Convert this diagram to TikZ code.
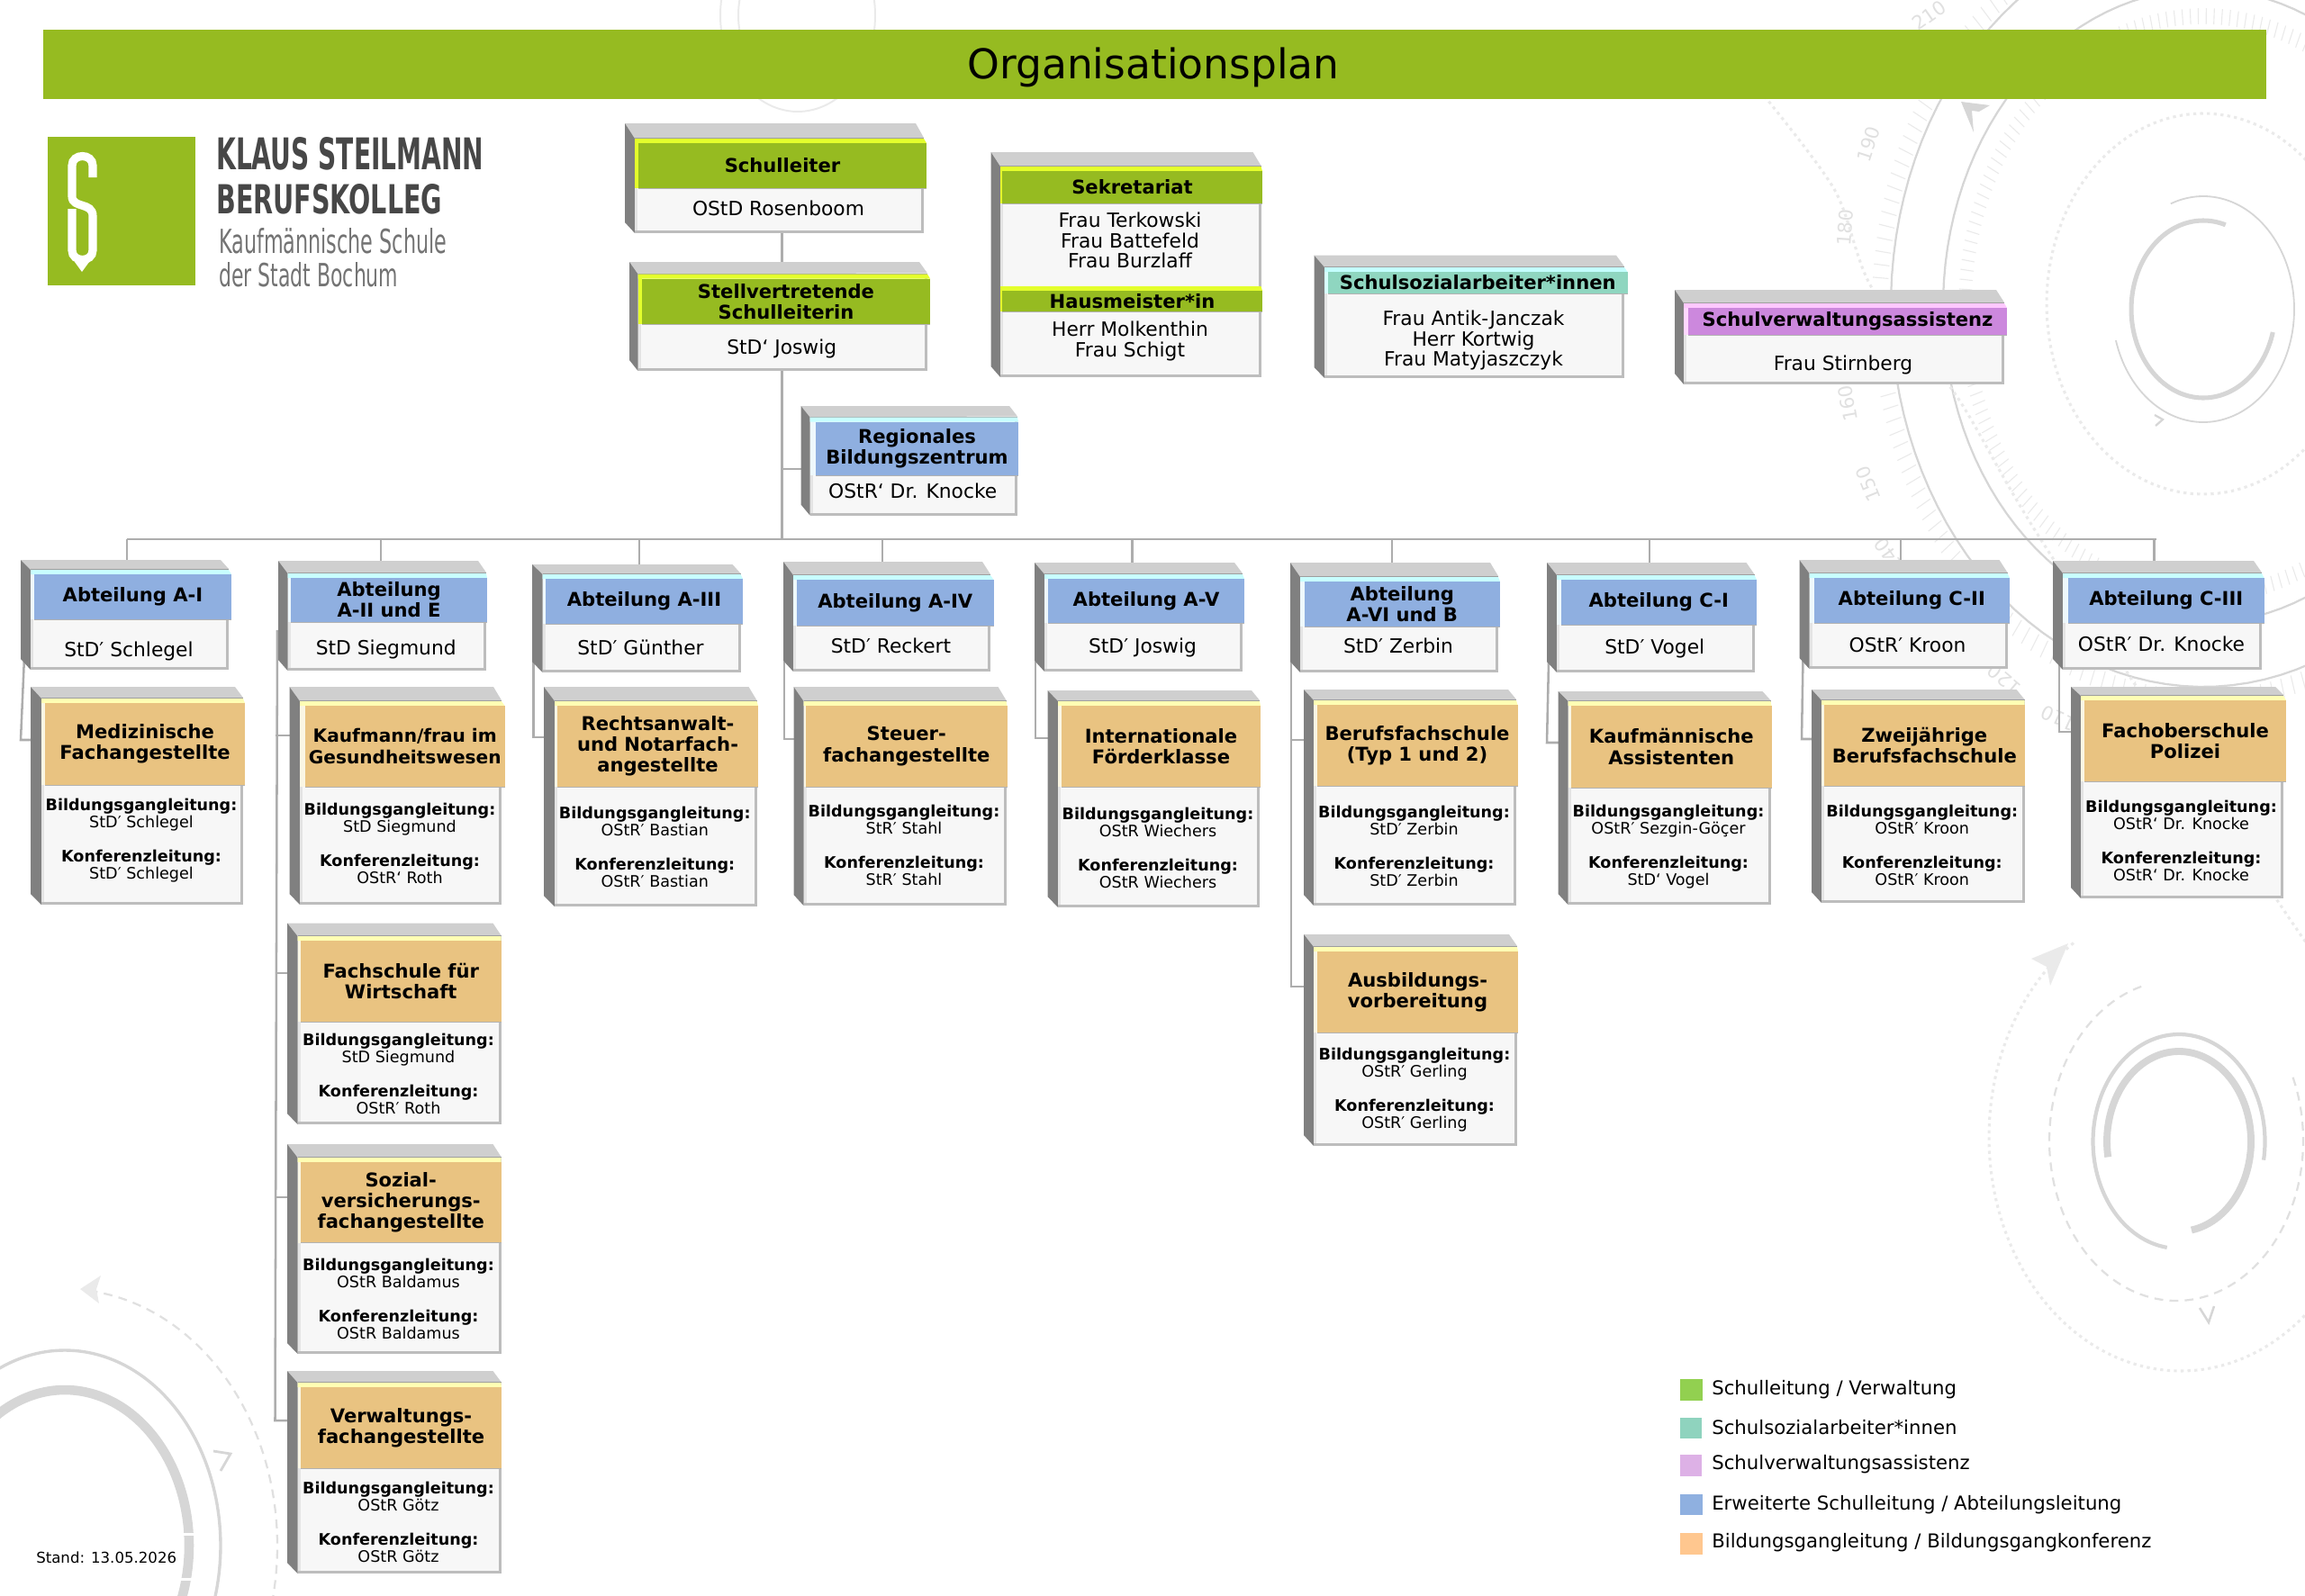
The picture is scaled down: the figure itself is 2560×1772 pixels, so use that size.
\documentclass[tikz,border=0pt]{standalone}
\usepackage{fontspec}
\usepackage{graphicx}
\setmainfont{DejaVu Sans}
\usetikzlibrary{backgrounds}

% Palette
\definecolor{brand}{HTML}{96BB21}
\definecolor{bandG}{HTML}{96BB21}\definecolor{liteG}{HTML}{E4FF2C}\definecolor{sideG}{HTML}{E4FF2C}
\definecolor{bandB}{HTML}{8FAFE0}\definecolor{liteB}{HTML}{C8FFFF}\definecolor{sideB}{HTML}{EEF8FC}
\definecolor{bandO}{HTML}{E9C381}\definecolor{liteO}{HTML}{FFFFB4}\definecolor{sideO}{HTML}{FAF6E4}
\definecolor{bandT}{HTML}{8FD6C0}\definecolor{liteT}{HTML}{C4FFFF}\definecolor{sideT}{HTML}{D8FFFF}
\definecolor{bandP}{HTML}{CC88DD}\definecolor{liteP}{HTML}{FFC8FF}\definecolor{sideP}{HTML}{FFD8FF}
\definecolor{faceTop}{HTML}{CFCFCF}
\definecolor{faceSide}{HTML}{808080}
\definecolor{faceEdge}{HTML}{BDBDBD}
\definecolor{faceFront}{HTML}{F7F7F7}
\definecolor{faceLeft}{HTML}{E4E4E4}
\definecolor{artDark}{HTML}{D6D6D6}
\definecolor{artMid}{HTML}{E0E0E0}
\definecolor{artLight}{HTML}{EAEAEA}
\definecolor{legA}{HTML}{92D050}
\definecolor{legB}{HTML}{8FD3BE}
\definecolor{legC}{HTML}{DDB1E6}
\definecolor{legD}{HTML}{8FB0E0}
\definecolor{legE}{HTML}{FFC78F}

\newdimen\pxu \pxu=0.25mm

\tikzset{
  conn/.style={draw=black!32, line width=1.8pt},
  headtext/.style={inner sep=0pt, align=center, font=\fontsize{15}{16.5}\selectfont\bfseries},
  bodytext/.style={inner sep=0pt, align=center, font=\fontsize{15.5}{16.2}\selectfont},
  smalltext/.style={inner sep=0pt, align=center, font=\fontsize{12.5}{13.5}\selectfont},
  legendtext/.style={inner sep=0pt, anchor=west, font=\fontsize{15.1}{17}\selectfont},
  thinring/.style={draw=artDark, line width=1.6pt},
  thickring/.style={draw=artDark, line width=4pt},
  dashring/.style={draw=artMid, line width=1.6pt, dash pattern=on 7pt off 5pt},
  dotring/.style={draw=artLight, line width=2.2pt, dash pattern=on 2.4pt off 3pt},
  tickmark/.style={draw=artLight, line width=0.8pt},
  scalenum/.style={inner sep=0pt, text=artMid, font=\fontsize{15}{15}\selectfont},
}

% Elliptical arc, angles counted counter-clockwise on the page
\newcommand\ringarc[7]{% style, cx, cy, rx, ry, from, to
  \draw[#1] plot[domain=#6:#7, samples=120]
    ({#2+#4*cos(\x)},{#3-#5*sin(\x)});}

\def\orgread#1,#2,#3,#4,#5,#6,#7,#8,#9\relax{%
  \def\boxL{#1}\def\boxT{#2}\def\boxF{#3}\def\boxR{#4}%
  \def\bandL{#5}\def\bandR{#6}\def\bandT{#7}\def\bandB{#8}\def\boxB{#9}}

% Block with its top and left faces and the pale front
\newcommand\orgshell{%
  \fill[faceTop] (\boxL,\boxT) -- ({\boxR-9},\boxT) -- (\boxR,{\bandT-1}) -- (\boxF,\bandT) -- cycle;
  \draw[black!38, line width=0.8pt] (\boxF,\bandT) -- (\boxR,\bandT);
  \fill[faceSide] (\boxL,\boxT) -- (\boxF,\bandT) -- (\boxF,\boxB) -- (\boxL,{\boxB-12}) -- cycle;
  \fill[faceEdge] (\boxF,\bandT) rectangle (\boxR,\boxB);
  \fill[faceLeft] (\boxF,\bandT) rectangle ({\boxF+3},{\boxB-3});
  \fill[faceFront] ({\boxF+3},\bandT) rectangle ({\boxR-3},{\boxB-3});}

% Coloured title band: name, left, right, top, bottom, colour letter, text
\newcommand\orgband[7]{%
  \fill[side#6] (\boxF,#4) rectangle (#2,#5);
  \fill[lite#6] (\boxF,#4) -- (\boxR,#4) -- (#3,{#4+5}) -- (#2,{#4+5}) -- (\boxF,{#4+5}) -- cycle;
  \fill[band#6] (#2,{#4+5}) rectangle (#3,#5);
  \draw[black!30, line width=0.7pt] (#2,#5) -- (#3,#5);
  \node[headtext] (#1) at ({(#2+#3)/2},{(#4+5+#5)/2}) {#7};}

% Complete box: id, geometry list, colour letter, title, body, body text shift
\newcommand\orgbox[6]{%
  \orgread#2\relax
  \orgshell
  \orgband{#1}{\bandL}{\bandR}{\bandT}{\bandB}{#3}{#4}
  \node[bodytext] (#1-body) at ({(\boxF+\boxR)/2-1},{(\bandB+\boxB)/2+#6}) {#5};}

% Programme box: same block, body lists the two functions with their holders
\newcommand\progbox[6]{%
  \orgread#2\relax
  \orgshell
  \orgband{#1}{\bandL}{\bandR}{\bandT}{\bandB}{O}{#3}
  \node[smalltext] (#1-body) at ({(\boxF+\boxR)/2-1},{(\bandB+\boxB)/2+1+#6})
    {\textbf{Bildungsgangleitung:}\\#4\\[13.5pt]\textbf{Konferenzleitung:}\\#5};}

\begin{document}
\begin{tikzpicture}[x=0.25mm,y=-0.25mm]
\useasboundingbox (0,0) rectangle (2560,1772);

% ---- Decorative dials behind the chart ----
\begin{pgfonlayer}{background}
\begin{scope}
\clip (0,0) rectangle (2560,1772);
% top centre ring
\ringarc{draw=artLight,line width=1.4pt}{886}{17}{86}{107}{0}{360}
\ringarc{draw=artLight,line width=1.4pt}{886}{17}{66}{82}{150}{210}
% upper right dial
\ringarc{draw=artDark,line width=1.6pt}{2447}{340}{347}{423}{0}{360}
\ringarc{draw=artDark,line width=1.6pt}{2447}{340}{289}{352}{0}{360}
\foreach \a in {0,1.9,...,359} {
  \draw[tickmark] ({2447+0.89*289*cos(\a)},{340-0.89*352*sin(\a)}) -- ({2447+0.94*289*cos(\a)},{340-0.94*352*sin(\a)});
}
\foreach \a in {60,61.9,...,300} {
  \draw[tickmark] ({2447+1.01*347*cos(\a)},{340-1.01*423*sin(\a)}) -- ({2447+1.06*347*cos(\a)},{340-1.06*423*sin(\a)});
}
\node[scalenum,rotate=35] (n210) at (2143,17) {210};
\node[scalenum,rotate=72] (n190) at (2075,160) {190};
\node[scalenum,rotate=86] (n180) at (2049,253) {180};
\node[scalenum,rotate=100] (n160) at (2052,448) {160};
\node[scalenum,rotate=112] (n150) at (2075,538) {150};
\node[scalenum,rotate=125] (n140) at (2098,616) {140};
\node[scalenum,rotate=140] (n120) at (2226,755) {120};
\node[scalenum,rotate=155] (n110) at (2286,798) {110};
\draw[dotring] plot[smooth] coordinates {(1950,95) (2037,210) (2079,320) (2173,440) (2267,600) (2531,1003) (2590,1085)};
\ringarc{dotring}{2447}{337.5}{174}{211.5}{0}{360}
\ringarc{draw=artDark,line width=1.3pt}{2447}{343.5}{101}{125.5}{-164}{111}
\ringarc{draw=artDark,line width=3.6pt}{2447}{343.5}{80}{98.5}{72}{345}
\fill[artDark] (2178,113) -- (2210,117) -- (2198,124) -- (2190,123) -- (2192,147) -- cycle;
\draw[artDark,line width=1.6pt] (2393,461) -- (2402,466) -- (2394,473);
% lower right dial
\ringarc{dotring}{2422}{1263}{213}{260}{124}{375}
\ringarc{dashring}{2417}{1267}{141}{178}{106}{385}
\ringarc{draw=artDark,line width=3pt}{2420}{1268}{95.5}{119}{-10}{262}
\ringarc{draw=artDark,line width=5.6pt}{2420}{1268}{80}{100}{-80}{190}
\fill[artLight] (2297,1048) -- (2256,1065) -- (2273,1074) -- (2277,1095) -- cycle;
\draw[artDark,line width=1.8pt] (2443,1453) -- (2453,1469) -- (2459,1451);
% lower left dial
\ringarc{draw=artDark,line width=2.4pt}{72}{1717}{173}{217}{-30}{180}
\ringarc{draw=artDark,line width=7.5pt}{72}{1717}{138}{173}{-30}{180}
\fill[white] (190,1703) rectangle (225,1705.5);
\fill[white] (190,1753) rectangle (225,1755.5);
\ringarc{dashring}{72}{1717}{236}{285}{-20}{83}
\fill[artLight] (89,1432) -- (112,1417) -- (107,1432) -- (110,1448) -- cycle;
\draw[artDark,line width=2pt] (237,1612) -- (256,1615) -- (245,1634);
\end{scope}
\end{pgfonlayer}

% ---- Title bar ----
\fill[brand] (48,33) rectangle (2517,110);
\node[inner sep=0pt, font=\fontsize{32.4}{36}\selectfont] (title) at (1281,75) {Organisationsplan};

% ---- School logo ----
\fill[brand] (52.5,152) rectangle (217,317);
\draw[white, line width=6.5pt] (103,197) -- (103,184) .. controls (103,170) and (80,170) .. (80,184) -- (80,218)
   .. controls (80,232) and (103,224) .. (103,240) -- (103,278) .. controls (103,292) and (80,292) .. (80,278) -- (80,232);
\fill[white] (83,291) -- (99,291) -- (91,302) -- cycle;
\node[inner sep=0pt, anchor=north west, text=black!72] (logoa) at (240,152)
  {\resizebox{297\pxu}{36\pxu}{\textbf{KLAUS STEILMANN}}};
\node[inner sep=0pt, anchor=north west, text=black!72] (logob) at (240,204)
  {\resizebox{251\pxu}{33\pxu}{\textbf{BERUFSKOLLEG}}};
\node[inner sep=0pt, anchor=north west, text=black!55] (logoc) at (243,253)
  {\resizebox{253\pxu}{28\pxu}{Kaufmännische Schule}};
\node[inner sep=0pt, anchor=north west, text=black!55] (logod) at (243,291)
  {\resizebox{199\pxu}{27\pxu}{der Stadt Bochum}};

% ---- Management and administration ----
\orgbox{sl}{694,137,705,1026,709,1029,154,209,259}{G}{Schulleiter}{OStD Rosenboom}{-3}
\orgbox{st}{699,291,708.5,1030,713,1033,304.5,360,412}{G}{Stellvertretende\\Schulleiterin}{StD‘ Joswig}{1}
\orgbox{rz}{889.5,451,899.5,1130,906,1131,463.5,528,572.5}{B}{Regionales\\Bildungszentrum}{OStR‘ Dr. Knocke}{-5}

\orgread 1100.5,169,1111,1400.5,1113,1402,185,226,419\relax
\orgshell
\orgband{sek}{1113}{1402}{185}{226}{G}{Sekretariat}
\node[bodytext] (sek-body) at (1255,267) {Frau Terkowski\\Frau Battefeld\\Frau Burzlaff};
\orgband{hm}{1113}{1402}{318}{346}{G}{Hausmeister*in}
\node[bodytext] (hm-body) at (1255,379) {Herr Molkenthin\\Frau Schigt};

\orgbox{ssa}{1459.5,283.7,1471,1804,1475,1807.5,297,326,420}{T}{Schulsozialarbeiter*innen}{Frau Antik-Janczak\\Herr Kortwig\\Frau Matyjaszczyk}{5}
\orgbox{sva}{1860,322,1870,2226,1875,2229,337,372,427}{P}{Schulverwaltungsassistenz}{Frau Stirnberg}{6}

% ---- Departments ----
\orgbox{aI}{23,622,34,254,38,257,633,688,744}{B}{Abteilung A-I}{StD′ Schlegel}{7}
\orgbox{aII}{309,623,319.5,540,323,541,637,691,745}{B}{Abteilung\\A-II und E}{StD Siegmund}{3}
\orgbox{aIII}{591,627,602.5,822.5,606,825,638,693,747}{B}{Abteilung A-III}{StD′ Günther}{-1}
\orgbox{aIV}{870,624,881,1100,885,1103.5,639,695,746}{B}{Abteilung A-IV}{StD′ Reckert}{-3}
\orgbox{aV}{1149,625,1160,1380,1164,1382,638,692,746}{B}{Abteilung A-V}{StD′ Joswig}{0}
\orgbox{aVI}{1433,625,1444,1664,1448.5,1666,641,696,747}{B}{Abteilung\\A-VI und B}{StD′ Zerbin}{-4}
\orgbox{cI}{1718,625,1729,1948.5,1733.5,1951,639,694,747}{B}{Abteilung C-I}{StD′ Vogel}{0}
\orgbox{cII}{1998.5,622,2009.5,2229.5,2014.5,2232,637,692,743}{B}{Abteilung C-II}{OStR′ Kroon}{-1}
\orgbox{cIII}{2280,623,2291,2512,2297,2514.5,637,692,744}{B}{Abteilung C-III}{OStR′ Dr. Knocke}{-3}

% ---- Courses of education ----
\progbox{med}{34,763,46,270,50,272,776,872,1005}{Medizinische\\Fachangestellte}{StD′ Schlegel}{StD′ Schlegel}{-6}
\progbox{kfm}{321.5,763,333,557,339,560.5,779,874,1005}{\fontsize{14.3}{14.8}\selectfont Kaufmann/frau im\\\fontsize{14.3}{14.8}\selectfont Gesundheitswesen}{StD Siegmund}{OStR‘ Roth}{-4}
\progbox{fsw}{319,1025.5,330.5,556.5,334,556.5,1040,1135,1249}{Fachschule für\\Wirtschaft}{StD Siegmund}{OStR′ Roth}{0}
\progbox{soz}{319,1271,330.5,556.5,334,556.5,1286,1380.5,1504}{Sozial-\\versicherungs-\\fachangestellte}{OStR Baldamus}{OStR Baldamus}{0}
\progbox{ver}{319,1523,330.5,556.5,334,557,1536,1631,1748}{Verwaltungs-\\fachangestellte}{OStR Götz}{OStR Götz}{0}
\progbox{raw}{604,763,616,840.5,619,842,779,874,1007}{Rechtsanwalt-\\und Notarfach-\\angestellte}{OStR′ Bastian}{OStR′ Bastian}{-1}
\progbox{ste}{881.5,763,892.5,1117.5,895,1118.5,779,874,1006}{Steuer-\\fachangestellte}{StR′ Stahl}{StR′ Stahl}{-2}
\progbox{fka}{1163.5,767,1175,1399,1179,1400,779,874,1008}{Internationale\\Förderklasse}{OStR Wiechers}{OStR Wiechers}{0}
\progbox{bfs}{1448,766,1459,1684,1462.5,1685.5,778,873,1006}{Berufsfachschule\\(Typ 1 und 2)}{StD′ Zerbin}{StD′ Zerbin}{-1}
\progbox{avb}{1448,1038,1459,1685,1463,1686,1052,1147,1273}{Ausbildungs-\\vorbereitung}{OStR′ Gerling}{OStR′ Gerling}{0}
\progbox{kas}{1730.5,768,1741.5,1966.5,1745,1967.5,779,875,1005}{Kaufmännische\\Assistenten}{OStR′ Sezgin-Göçer}{StD‘ Vogel}{0}
\progbox{zbf}{2012,766,2023,2248.5,2026,2248.5,778,873,1003}{Zweijährige\\Berufsfachschule}{OStR′ Kroon}{OStR′ Kroon}{0}
\progbox{fop}{2300,763,2311,2536,2315,2539,773,868,998}{Fachoberschule\\Polizei}{OStR‘ Dr. Knocke}{OStR‘ Dr. Knocke}{0}

% ---- Connection points on the blocks ----
\coordinate (bus-l) at (141,599);
\coordinate (bus-r) at (2395,599);
\coordinate (sl-s) at (868.5,255);
\coordinate (st-n) at (868.5,295);
\coordinate (st-s) at (868.5,408);
\coordinate (rz-w) at (892,521);
\coordinate (aI-in) at (141,625);
\coordinate (aII-in) at (423,626);
\coordinate (aIII-in) at (710,630);
\coordinate (aIV-in) at (980,627);
\coordinate (aV-in) at (1257.5,628);
\coordinate (aVI-in) at (1546,628);
\coordinate (cI-in) at (1832,628);
\coordinate (cII-in) at (2111,625);
\coordinate (cIII-in) at (2392.5,626);
\coordinate (aI-out) at (27,730);
\coordinate (aI-knee) at (23,822);
\coordinate (med-in) at (38,822);
\coordinate (aII-out) at (308,700);
\coordinate (aII-knee) at (305.5,1578);
\coordinate (kfm-in) at (325,817);
\coordinate (fsw-in) at (322,1081);
\coordinate (soz-in) at (322,1330);
\coordinate (ver-in) at (322,1578);
\coordinate (aIII-out) at (592.5,735);
\coordinate (raw-in) at (608,819);
\coordinate (aIV-out) at (871,735);
\coordinate (ste-in) at (885,821);
\coordinate (aV-out) at (1150,735);
\coordinate (fka-in) at (1167,820);
\coordinate (aVI-out) at (1434,735);
\coordinate (aVI-knee) at (1434,1096);
\coordinate (bfs-in) at (1452,822);
\coordinate (avb-in) at (1452,1096);
\coordinate (cI-out) at (1720,735);
\coordinate (cI-knee) at (1718,825);
\coordinate (kas-in) at (1734,825);
\coordinate (cII-out) at (2002.5,730);
\coordinate (cII-knee) at (2001,821);
\coordinate (zbf-in) at (2016,821);
\coordinate (cIII-out) at (2287,730);
\coordinate (fop-in) at (2303,813);

% ---- Connectors, drawn behind the blocks ----
\begin{pgfonlayer}{background}
\draw[conn] (sl-s) -- (st-n);
\draw[conn] (st-s) -- (st-s |- bus-l);
\draw[conn] (rz-w -| st-s) -- (rz-w);
\draw[conn] (bus-l) -- (bus-r);
\foreach \d in {aI,aII,aIII,aIV,aV,aVI,cI,cII,cIII}
  \draw[conn] (bus-l -| \d-in) -- (\d-in);
\draw[conn] (aI-out) -- (aI-knee) -- (med-in);
\draw[conn] (aII-out) -- (aII-knee) -- (ver-in);
\draw[conn] (kfm-in -| aII-knee) -- (kfm-in);
\draw[conn] (fsw-in -| aII-knee) -- (fsw-in);
\draw[conn] (soz-in -| aII-knee) -- (soz-in);
\draw[conn] (aIII-out) |- (raw-in);
\draw[conn] (aIV-out) |- (ste-in);
\draw[conn] (aV-out) |- (fka-in);
\draw[conn] (aVI-out) -- (aVI-knee) -- (avb-in);
\draw[conn] (bfs-in -| aVI-out) -- (bfs-in);
\draw[conn] (cI-out) -- (cI-knee) -- (kas-in);
\draw[conn] (cII-out) -- (cII-knee) -- (zbf-in);
\draw[conn] (cIII-out) |- (fop-in);
\end{pgfonlayer}

% ---- Legend and date ----
\fill[legA] (1866,1532) rectangle (1890.5,1556);
\fill[legB] (1866,1575) rectangle (1890,1598);
\fill[legC] (1866,1616) rectangle (1890,1640);
\fill[legD] (1866,1660) rectangle (1890.5,1683);
\fill[legE] (1866,1703) rectangle (1890.5,1727);
\node[legendtext] (leg1) at (1901,1544) {Schulleitung / Verwaltung};
\node[legendtext] (leg2) at (1901,1586) {Schulsozialarbeiter*innen};
\node[legendtext] (leg3) at (1901,1627) {Schulverwaltungsassistenz};
\node[legendtext] (leg4) at (1901,1672) {Erweiterte Schulleitung / Abteilungsleitung};
\node[legendtext] (leg5) at (1901,1714) {Bildungsgangleitung / Bildungsgangkonferenz};
\node[legendtext, font=\fontsize{11.8}{13}\selectfont] (stand) at (40,1730) {Stand: 13.05.2026};
\end{tikzpicture}
\end{document}
